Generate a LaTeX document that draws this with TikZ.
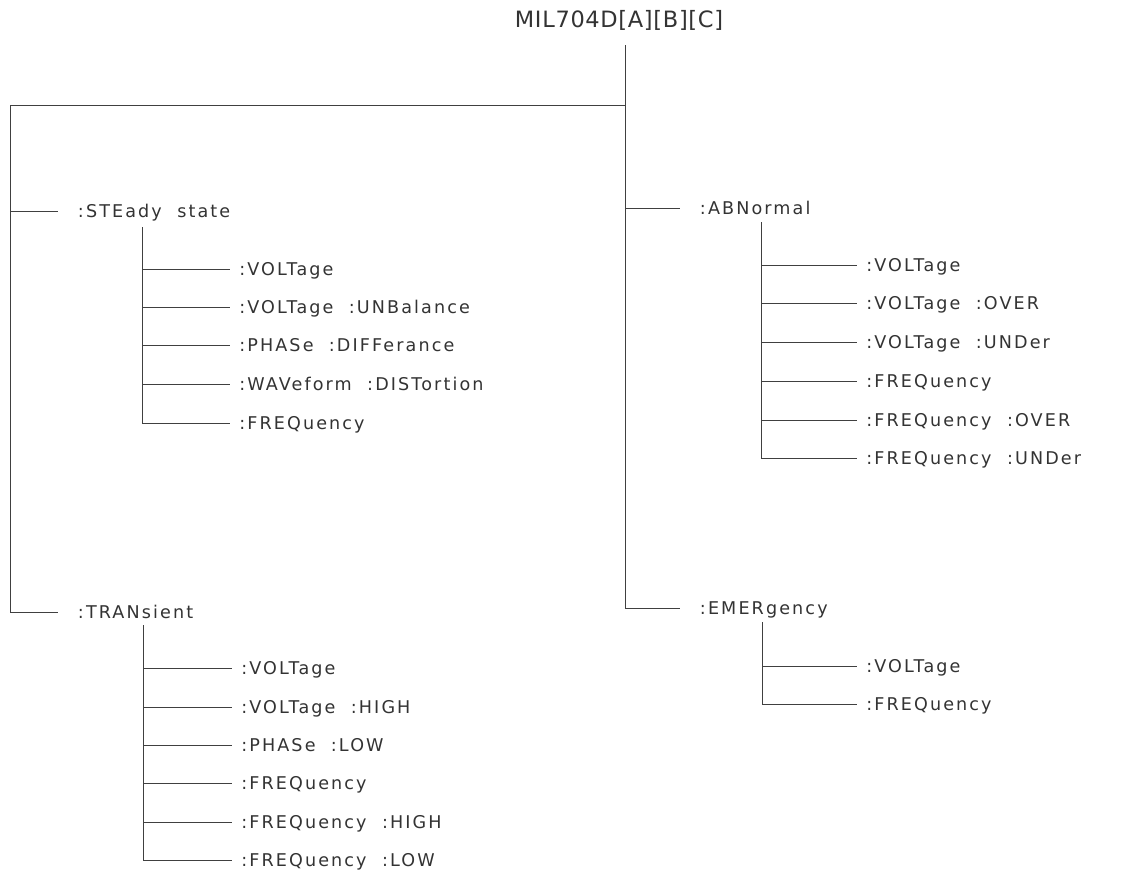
\documentclass[tikz,border=0pt]{standalone}
\usepackage{fontspec}
\setmainfont{DejaVu Sans}[LetterSpace=12]
\usepackage{tikz}
\usetikzlibrary{positioning}
\tikzset{
    wire/.style={draw=black!75, line width=0.7pt},
    cmd_hoja/.style={anchor=west, inner xsep=6.4pt, inner ysep=0pt, text height=9.1pt, text depth=0pt, font=\fontsize{12.5}{15}\selectfont, text=black!80},
    cmd_grupo/.style={cmd_hoja, inner xsep=14pt},
    cmd_raiz/.style={anchor=base, inner xsep=0pt, inner ysep=12.8pt, text depth=0pt, font=\fontsize{16}{19}\selectfont\addfontfeatures{LetterSpace=3}, text=black!80}
}

\begin{document}
\begin{tikzpicture}[x=0.025cm, y=-0.025cm]
    \useasboundingbox (0,0) rectangle (1123,877);

    \node[cmd_raiz] (root) at (619,27) {MIL704D[A][B][C]};
    \coordinate (top) at (625,105);
    \coordinate (corner) at (10,105);

    % primer nivel
    \node[cmd_grupo] (ste) at (58,211) {:STEady~ state};
    \node[cmd_grupo] (tran) at (58,612) {:TRANsient};
    \node[cmd_grupo] (abn) at (680,208) {:ABNormal};
    \node[cmd_grupo] (emer) at (680,608) {:EMERgency};

    % STEady state
    \coordinate (stebus) at (142,227);
    \node[cmd_hoja] (ss1) at (230,269) {:VOLTage};
    \node[cmd_hoja] (ss2) at (230,307) {:VOLTage~ :UNBalance};
    \node[cmd_hoja] (ss3) at (230,345) {:PHASe~ :DIFFerance};
    \node[cmd_hoja] (ss4) at (230,384) {:WAVeform~ :DISTortion};
    \node[cmd_hoja] (ss5) at (230,423) {:FREQuency};

    % TRANsient
    \coordinate (tranbus) at (143,625);
    \node[cmd_hoja] (tr1) at (232,668) {:VOLTage};
    \node[cmd_hoja] (tr2) at (232,707) {:VOLTage~ :HIGH};
    \node[cmd_hoja] (tr3) at (232,745) {:PHASe~ :LOW};
    \node[cmd_hoja] (tr4) at (232,783) {:FREQuency};
    \node[cmd_hoja] (tr5) at (232,822) {:FREQuency~ :HIGH};
    \node[cmd_hoja] (tr6) at (232,860) {:FREQuency~ :LOW};

    % ABNormal
    \coordinate (abnbus) at (761,222);
    \node[cmd_hoja] (ab1) at (857,265) {:VOLTage};
    \node[cmd_hoja] (ab2) at (857,303) {:VOLTage~ :OVER};
    \node[cmd_hoja] (ab3) at (857,342) {:VOLTage~ :UNDer};
    \node[cmd_hoja] (ab4) at (857,381) {:FREQuency};
    \node[cmd_hoja] (ab5) at (857,420) {:FREQuency~ :OVER};
    \node[cmd_hoja] (ab6) at (857,458) {:FREQuency~ :UNDer};

    % EMERgency
    \coordinate (emerbus) at (762,622);
    \node[cmd_hoja] (em1) at (857,666) {:VOLTage};
    \node[cmd_hoja] (em2) at (857,704) {:FREQuency};

    \draw[wire] (top |- root.south) -- (top);
    \draw[wire] (top) -- (corner) -- (corner |- tran.west) -- (tran.west);
    \draw[wire] (corner |- ste.west) -- (ste.west);
    \draw[wire] (top) -- (top |- emer.west) -- (emer.west);
    \draw[wire] (top |- abn.west) -- (abn.west);

    \draw[wire] (stebus) -- (stebus |- ss5.west) -- (ss5.west);
    \draw[wire] (stebus |- ss1.west) -- (ss1.west);
    \draw[wire] (stebus |- ss2.west) -- (ss2.west);
    \draw[wire] (stebus |- ss3.west) -- (ss3.west);
    \draw[wire] (stebus |- ss4.west) -- (ss4.west);

    \draw[wire] (tranbus) -- (tranbus |- tr6.west) -- (tr6.west);
    \draw[wire] (tranbus |- tr1.west) -- (tr1.west);
    \draw[wire] (tranbus |- tr2.west) -- (tr2.west);
    \draw[wire] (tranbus |- tr3.west) -- (tr3.west);
    \draw[wire] (tranbus |- tr4.west) -- (tr4.west);
    \draw[wire] (tranbus |- tr5.west) -- (tr5.west);

    \draw[wire] (abnbus) -- (abnbus |- ab6.west) -- (ab6.west);
    \draw[wire] (abnbus |- ab1.west) -- (ab1.west);
    \draw[wire] (abnbus |- ab2.west) -- (ab2.west);
    \draw[wire] (abnbus |- ab3.west) -- (ab3.west);
    \draw[wire] (abnbus |- ab4.west) -- (ab4.west);
    \draw[wire] (abnbus |- ab5.west) -- (ab5.west);

    \draw[wire] (emerbus) -- (emerbus |- em2.west) -- (em2.west);
    \draw[wire] (emerbus |- em1.west) -- (em1.west);
\end{tikzpicture}
\end{document}
